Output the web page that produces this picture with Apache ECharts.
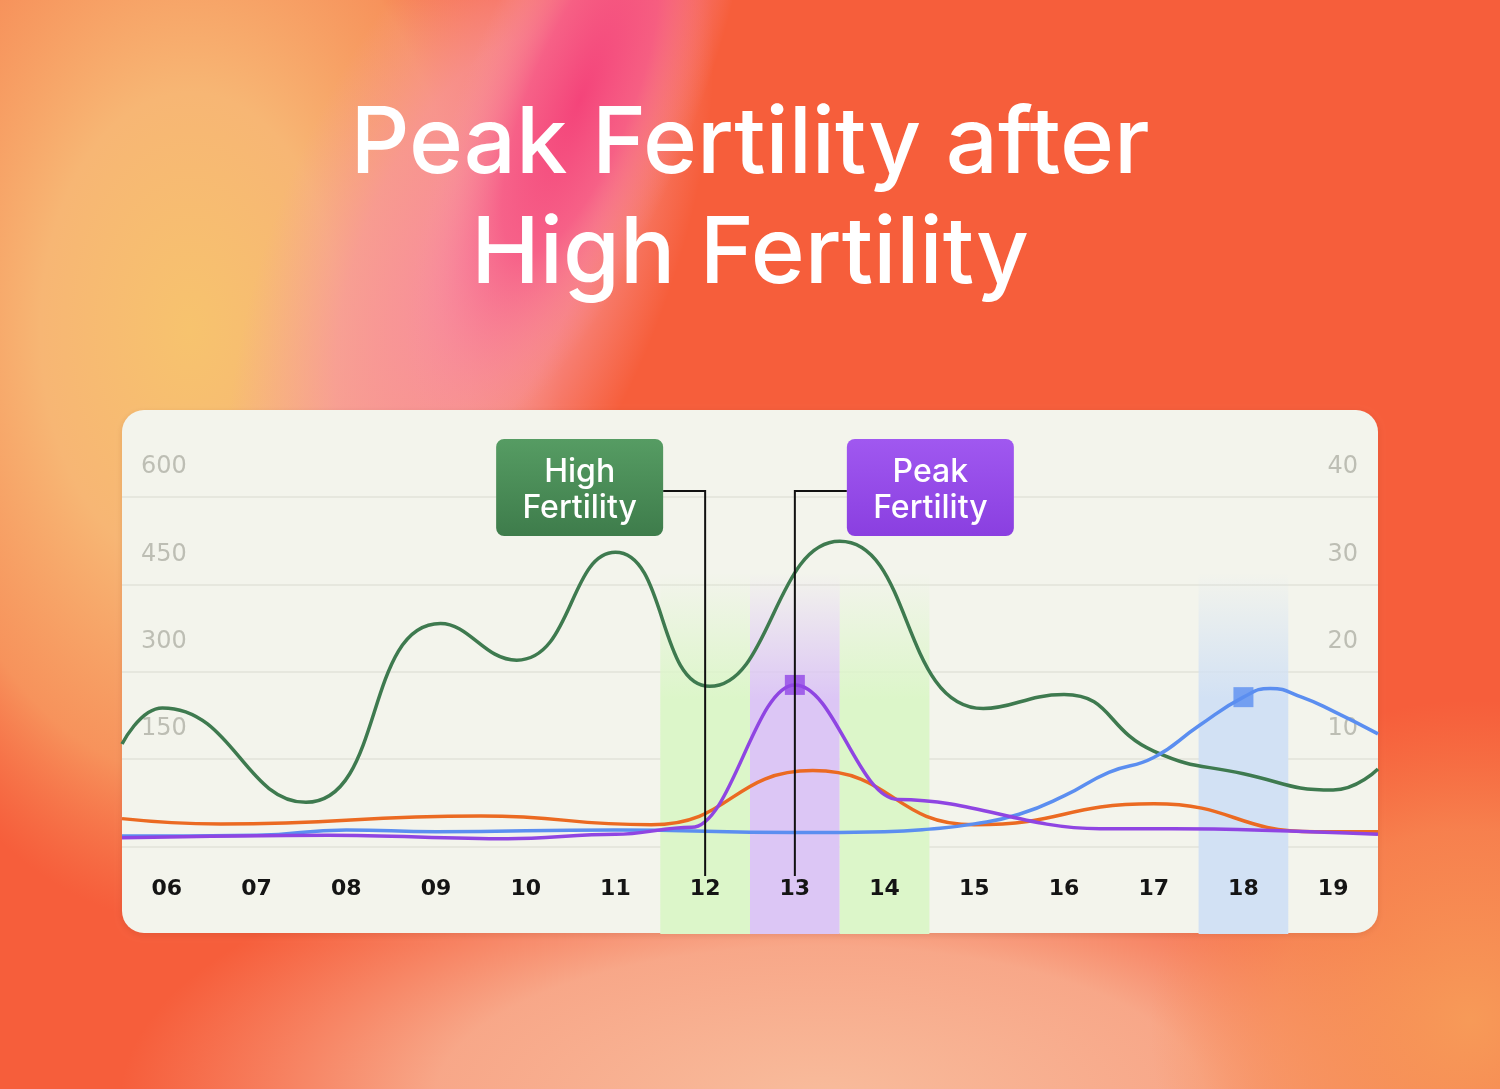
<!DOCTYPE html>
<html>
<head>
<meta charset="utf-8">
<title>Peak Fertility after High Fertility</title>
<script src="https://cdn.jsdelivr.net/npm/echarts@6/dist/echarts.min.js"></script>
<style>
    html, body { margin: 0; padding: 0; }
    #chart { width: 1500px; height: 1089px; }
</style>
</head>
<body>
<div id="chart"></div>
<script>
// x categories (day of cycle)
var days = ['06', '07', '08', '09', '10', '11', '12', '13', '14', '15', '16', '17', '18', '19'];

// each curve: positions on the day axis (0 = day 06) and readings there
// green, left axis (0 - 600)
var greenX = [-0.5, -0.05, 1.55, 3.05, 3.9, 5.0, 6.05, 7.5, 9.1, 10.0, 11.0, 12.0, 13.0, 13.5];
var greenValues = [176, 238, 76, 383, 320, 505, 275, 524, 237, 261, 164, 125, 97, 133];
// orange, right axis (0 - 40), turning points
var orangeX = [-0.5, 0.6, 3.5, 5.4, 7.2, 9.0, 11.0, 12.8, 13.5];
var orangeValues = [3.2, 2.6, 3.5, 2.5, 8.7, 2.5, 4.9, 1.7, 1.7];
// purple, right axis, turning points
var purpleX = [-0.5, 1.8, 3.8, 5.0, 5.85, 7.0, 8.15, 10.4, 11.2, 13.5];
var purpleValues = [1.0, 1.3, 0.9, 1.4, 2.2, 18.5, 5.4, 2.05, 2.05, 1.4];
// blue, right axis
var blueX = [-0.5, 1.0, 2.0, 3.0, 5.0, 7.0, 8.0, 8.5, 9.0, 9.5, 10.0, 10.5, 11.0, 11.5, 12.0,
    12.3, 12.65, 13.0, 13.5];
var blueValues = [1.2, 1.3, 1.9, 1.7, 1.9, 1.6, 1.7, 2.0, 2.6, 3.7, 5.8, 8.5, 10.2, 13.8, 17.1,
    18.1, 17.1, 15.5, 12.9];

var leftTicks = [600, 450, 300, 150];
var rightTicks = [40, 30, 20, 10];

// shaded days
var bandDays = ['12', '13', '14', '18'];
var bandColors = ['#dcf6c9', '#dcc6f5', '#dcf6c9', '#d2e1f4'];

var highDay = '12';
var peakDay = '13';
var purpleMarkDay = '13';
var blueMarkDay = '18';

function pairs(xs, vs) {
    return xs.map(function (x, i) { return [x, vs[i]]; });
}

function fade(c) {
    return {
        type: 'linear', x: 0, y: 0, x2: 0, y2: 1,
        colorStops: [
            {offset: 0, color: echarts.color.modifyAlpha(c, 0)},
            {offset: 0.35, color: c},
            {offset: 1, color: c}
        ]
    };
}

var bandData = bandDays.map(function (d, k) {
    var i = days.indexOf(d);
    return [
        {xAxis: i - 0.5, yAxis: 470, itemStyle: {color: fade(bandColors[k])}},
        {xAxis: i + 0.5, yAxis: -150}
    ];
});

function markAt(day, xs, vs) {
    var i = days.indexOf(day);
    return [i, vs[xs.indexOf(i)]];
}

var tickFont = 'DejaVu Sans';

function lineSeries(name, xs, vs, axis, color, smooth, monotone) {
    var s = {
        name: name,
        type: 'line',
        xAxisIndex: 1,
        yAxisIndex: axis,
        smooth: smooth,
        symbol: 'none',
        data: pairs(xs, vs),
        lineStyle: {color: color, width: 3.5}
    };
    if (monotone) s.smoothMonotone = 'x';
    return s;
}

var green = lineSeries('green', greenX, greenValues, 0, '#3e7a4f', 0.5, false);
green.markArea = {silent: true, itemStyle: {borderWidth: 0}, data: bandData};

var option = {
    animation: false,
    title: {
        text: 'Peak Fertility after\nHigh Fertility',
        left: 'center',
        top: 85,
        textStyle: {
            color: '#ffffff',
            fontFamily: 'Inter',
            fontWeight: 500,
            fontSize: 92,
            lineHeight: 110
        }
    },
    grid: {left: 122, right: 122, top: 497, bottom: 155},
    xAxis: [
        {
            type: 'category',
            data: days,
            boundaryGap: true,
            z: 10,
            axisLine: {show: false},
            axisTick: {show: false},
            splitLine: {show: false},
            axisLabel: {
                inside: true,
                margin: 45,
                verticalAlign: 'middle',
                color: '#141414',
                fontFamily: tickFont,
                fontWeight: 'bold',
                fontSize: 22
            }
        },
        {
            type: 'value',
            min: -0.5,
            max: 13.5,
            show: false
        }
    ],
    yAxis: [
        {
            type: 'value',
            min: -150,
            max: 600,
            interval: 150,
            position: 'left',
            axisLine: {show: false},
            axisTick: {show: false},
            axisLabel: {
                inside: true,
                margin: 19,
                verticalAlign: 'bottom',
                padding: [0, 0, 18, 0],
                color: '#bdbeb4',
                fontFamily: tickFont,
                fontSize: 24,
                formatter: function (v) { return leftTicks.indexOf(v) >= 0 ? String(v) : ''; }
            },
            splitLine: {
                show: true,
                showMinLine: false,
                lineStyle: {color: '#e2e3da', width: 1.5}
            }
        },
        {
            type: 'value',
            min: -10,
            max: 40,
            interval: 10,
            position: 'right',
            axisLine: {show: false},
            axisTick: {show: false},
            axisLabel: {
                inside: true,
                margin: 20,
                verticalAlign: 'bottom',
                padding: [0, 0, 18, 0],
                color: '#bdbeb4',
                fontFamily: tickFont,
                fontSize: 24,
                formatter: function (v) { return rightTicks.indexOf(v) >= 0 ? String(v) : ''; }
            },
            splitLine: {show: false}
        }
    ],
    series: [
        green,
        lineSeries('orange', orangeX, orangeValues, 1, '#eb6a22', 0.5, true),
        lineSeries('blue', blueX, blueValues, 1, '#5b8ef0', 0.5, false),
        lineSeries('purple', purpleX, purpleValues, 1, '#8f45e2', 0.38, true),
        {
            name: 'marks',
            type: 'scatter',
            xAxisIndex: 1,
            yAxisIndex: 1,
            symbol: 'rect',
            symbolSize: 20,
            z: 5,
            data: [
                {value: markAt(purpleMarkDay, purpleX, purpleValues), itemStyle: {color: '#9146e6'}},
                {value: markAt(blueMarkDay, blueX, blueValues), itemStyle: {color: '#5b8ef0'}}
            ]
        }
    ]
};

var chart = echarts.init(document.getElementById('chart'));
chart.setOption(option);

function radial(stops) {
    return {
        type: 'radial', x: 0.5, y: 0.5, r: 0.5,
        colorStops: stops.map(function (s) { return {offset: s[0], color: s[1]}; })
    };
}

function buildGraphics() {
    var hx = chart.convertToPixel({xAxisIndex: 0}, highDay);
    var px = chart.convertToPixel({xAxisIndex: 0}, peakDay);
    var boxTop = 439, boxH = 97, boxW = 167, connY = 491, lineEnd = 876;
    var greenRight = hx - 42;
    var purpleLeft = px + 52;

    var els = [
        // background
        {type: 'rect', z: -100, shape: {x: 0, y: 0, width: 1500, height: 1089}, style: {fill: '#f65e3b'}},
        {type: 'circle', z: -99, x: 190, y: 330, scaleX: 0.85, scaleY: 1.35,
            shape: {cx: 0, cy: 0, r: 440},
            style: {fill: radial([[0, '#f7c36e'], [0.4, '#f7b674'], [0.75, 'rgba(247,160,100,0.8)'], [1, 'rgba(246,140,90,0)']])}},
        {type: 'circle', z: -98, x: 470, y: 260, scaleX: 0.55, scaleY: 1.2, rotation: -0.38,
            shape: {cx: 0, cy: 0, r: 360},
            style: {fill: radial([[0, 'rgba(248,140,160,0.95)'], [0.55, 'rgba(248,150,160,0.7)'], [1, 'rgba(248,160,160,0)']])}},
        {type: 'circle', z: -97, x: 580, y: 100, scaleX: 0.36, scaleY: 1.15, rotation: -0.38,
            shape: {cx: 0, cy: 0, r: 320},
            style: {fill: radial([[0, '#f4447a'], [0.45, 'rgba(246,90,135,0.85)'], [0.8, 'rgba(248,130,155,0.3)'], [1, 'rgba(248,150,160,0)']])}},
        {type: 'circle', z: -96, x: 820, y: 1100, scaleX: 1.25, scaleY: 0.5,
            shape: {cx: 0, cy: 0, r: 560},
            style: {fill: radial([[0, '#f8bc9c'], [0.55, 'rgba(248,180,150,0.85)'], [1, 'rgba(248,170,140,0)']])}},
        {type: 'circle', z: -95, x: 1470, y: 1020,
            shape: {cx: 0, cy: 0, r: 320},
            style: {fill: radial([[0, '#f79a58'], [0.6, 'rgba(247,150,90,0.6)'], [1, 'rgba(247,140,80,0)']])}},
        // panel
        {type: 'rect', z: -50, shape: {x: 122, y: 410, width: 1256, height: 523, r: 22},
            style: {fill: '#f3f4ec', shadowBlur: 6, shadowColor: 'rgba(120,40,20,0.15)', shadowOffsetY: 2}},
        // high fertility callout
        {type: 'polyline', z: 100, shape: {points: [[greenRight, connY], [hx, connY], [hx, lineEnd]]},
            style: {stroke: '#111111', lineWidth: 2, fill: null}},
        {type: 'rect', z: 101, shape: {x: greenRight - boxW, y: boxTop, width: boxW, height: boxH, r: 8},
            style: {fill: {type: 'linear', x: 0, y: 0, x2: 0, y2: 1,
                colorStops: [{offset: 0, color: '#569c63'}, {offset: 1, color: '#3e7c4b'}]}}},
        {type: 'text', z: 102, x: greenRight - boxW / 2, y: boxTop + boxH / 2 + 3,
            style: {text: 'High\nFertility', fill: '#ffffff', font: '500 32px Inter', lineHeight: 36,
                align: 'center', verticalAlign: 'middle'}},
        // peak fertility callout
        {type: 'polyline', z: 100, shape: {points: [[purpleLeft, connY], [px, connY], [px, lineEnd]]},
            style: {stroke: '#111111', lineWidth: 2, fill: null}},
        {type: 'rect', z: 101, shape: {x: purpleLeft, y: boxTop, width: boxW, height: boxH, r: 8},
            style: {fill: {type: 'linear', x: 0, y: 0, x2: 0, y2: 1,
                colorStops: [{offset: 0, color: '#a058f0'}, {offset: 1, color: '#8a3fe0'}]}}},
        {type: 'text', z: 102, x: purpleLeft + boxW / 2, y: boxTop + boxH / 2 + 3,
            style: {text: 'Peak\nFertility', fill: '#ffffff', font: '500 32px Inter', lineHeight: 36,
                align: 'center', verticalAlign: 'middle'}}
    ];
    chart.setOption({graphic: {elements: els}});
}
buildGraphics();
</script>
</body>
</html>
